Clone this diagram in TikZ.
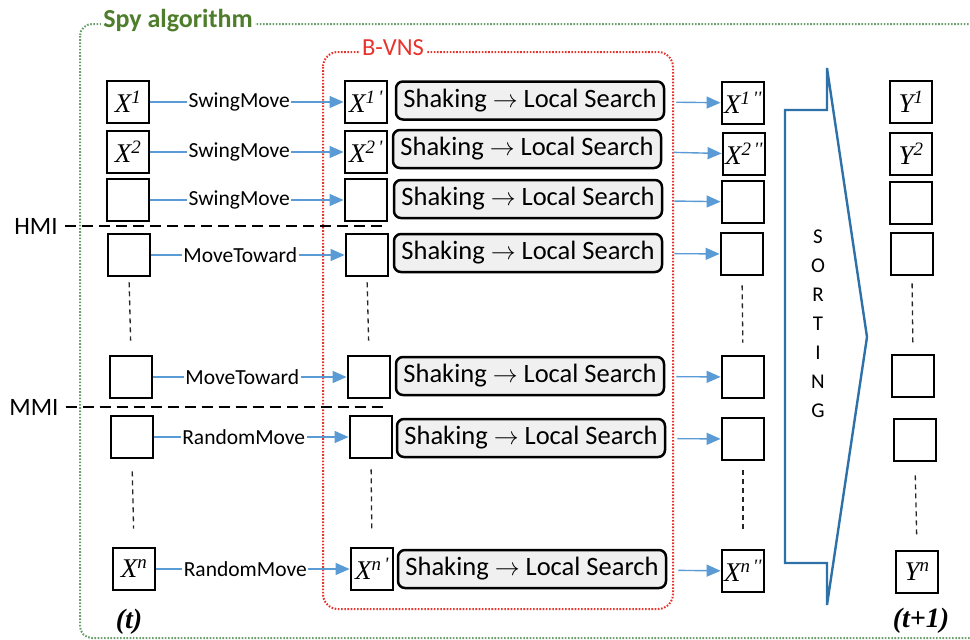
\documentclass[tikz,border=0pt]{standalone}
\usepackage{fontspec}
\setmainfont{Carlito}
\newfontfamily\tms{Liberation Serif}
\usetikzlibrary{arrows.meta,calc}
\definecolor{spygreen}{HTML}{4E7D2C}
\definecolor{spydot}{HTML}{6A9E6A}
\definecolor{vnsred}{HTML}{E8332C}
\definecolor{arrblue}{HTML}{5B9BD5}
\definecolor{sortblue}{HTML}{2E70A8}
\begin{document}
\begin{tikzpicture}[x=1pt,y=-1pt,
  sq/.style={draw=black, line width=2.8pt, minimum width=42pt, minimum height=42pt, inner sep=0pt, fill=white, font=\tms\fontsize{27}{27}\selectfont\itshape},
  shbox/.style={draw=black, line width=2.5pt, rounded corners=7pt, fill=gray!12, minimum width=268pt, minimum height=38pt, inner sep=0pt, font=\fontsize{26.5}{28}\selectfont},
  mvarrow/.style={draw=arrblue, line width=1.4pt, -{Triangle[length=14pt,width=12pt]}},
  lbl/.style={fill=white, inner sep=1.5pt, font=\fontsize{21.5}{22}\selectfont, text=black},
  vdash/.style={draw=black!85, line width=1.3pt, dash pattern=on 5pt off 4pt},
  hdash/.style={draw=black, line width=2.6pt, dash pattern=on 11pt off 6pt},
  tlab/.style={font=\tms\fontsize{28}{28}\selectfont\bfseries\itshape}
]
\useasboundingbox (0,0) rectangle (970,640);
% Spy algorithm frame
\draw[spydot, line width=2pt, dash pattern=on 1.6pt off 1.6pt, rounded corners=12pt] (80,24) rectangle (985,638);
\node[fill=white, inner sep=2pt, text=spygreen, font=\fontsize{26}{28}\selectfont\bfseries] (spy) at (178,21) {Spy algorithm};
% B-VNS frame
\draw[vnsred, line width=2pt, dash pattern=on 1.6pt off 1.6pt, rounded corners=15pt] (323,52) rectangle (673,609);
\node[fill=white, inner sep=2pt, text=vnsred, font=\fontsize{24.5}{26}\selectfont] (vns) at (393,48) {B-VNS};

% column 1
\node[sq] (a1) at (128,102) {X\textsuperscript{1}};
\node[sq] (a2) at (128,152) {X\textsuperscript{2}};
\node[sq] (a3) at (128,200) {};
\node[sq] (a4) at (129,255) {};
\node[sq] (a5) at (131,377) {};
\node[sq] (a6) at (132,437) {};
\node[sq] (a7) at (134,569) {X\textsuperscript{\textit{n}}};
% column 2
\node[sq] (b1) at (366,102) {X\textsuperscript{1\,'}};
\node[sq] (b2) at (366,152) {X\textsuperscript{2\,'}};
\node[sq] (b3) at (366,200) {};
\node[sq] (b4) at (367,255) {};
\node[sq] (b5) at (369,377) {};
\node[sq] (b6) at (371,437) {};
\node[sq] (b7) at (372,569) {X\textsuperscript{\textit{n}\,'}};
% shaking boxes
\node[shbox] (s1) at (530,100.5) {Shaking $\rightarrow$ Local Search};
\node[shbox] (s2) at (527,149) {Shaking $\rightarrow$ Local Search};
\node[shbox] (s3) at (528,199) {Shaking $\rightarrow$ Local Search};
\node[shbox] (s4) at (528,253) {Shaking $\rightarrow$ Local Search};
\node[shbox] (s5) at (530,376) {Shaking $\rightarrow$ Local Search};
\node[shbox] (s6) at (531,438) {Shaking $\rightarrow$ Local Search};
\node[shbox] (s7) at (532,569) {Shaking $\rightarrow$ Local Search};
% column 3
\node[sq] (c1) at (743,103) {X\textsuperscript{1\,''}};
\node[sq] (c2) at (744,154) {X\textsuperscript{2\,''}};
\node[sq] (c3) at (743,202) {};
\node[sq] (c4) at (742,254) {};
\node[sq] (c5) at (743,377) {};
\node[sq] (c6) at (743,439) {};
\node[sq] (c7) at (743,571) {X\textsuperscript{\textit{n}\,''}};
% column 4
\node[sq] (d1) at (911,102) {Y\textsuperscript{1}};
\node[sq] (d2) at (911,154) {Y\textsuperscript{2}};
\node[sq] (d3) at (911,203) {};
\node[sq] (d4) at (912,254) {};
\node[sq] (d5) at (913,376) {};
\node[sq] (d6) at (915,440) {};
\node[sq] (d7) at (917,572) {Y\textsuperscript{\textit{n}}};

% move arrows
\draw[mvarrow] (a1) -- node[lbl, pos=0.46] {SwingMove} (b1);
\draw[mvarrow] (a2) -- node[lbl, pos=0.46] {SwingMove} (b2);
\draw[mvarrow] (a3) -- node[lbl, pos=0.46] {SwingMove} (b3);
\draw[mvarrow] (a4) -- node[lbl, pos=0.46] {MoveToward} (b4);
\draw[mvarrow] (a5) -- node[lbl, pos=0.46] {MoveToward} (b5);
\draw[mvarrow] (a6) -- node[lbl, pos=0.46] {RandomMove} (b6);
\draw[mvarrow] (a7) -- node[lbl, pos=0.46] {RandomMove} (b7);
% to column 3
\foreach \i in {1,...,7}{
  \draw[mvarrow, shorten <=11pt] (s\i) -- (c\i);
}

% vertical dashes
\draw[vdash, shorten <=5pt, shorten >=14pt] (a4.south) -- (a5.north);
\draw[vdash, shorten <=12pt, shorten >=18pt] (a6.south) -- (a7.north);
\draw[vdash, shorten <=5pt, shorten >=14pt] (b4.south) -- (b5.north);
\draw[vdash, shorten <=10pt, shorten >=18pt] (b6.south) -- (b7.north);
\draw[vdash, shorten <=9pt, shorten >=12pt] (c4.south) -- (c5.north);
\draw[vdash, shorten <=9pt, shorten >=19pt] (c6.south) -- (c7.north);
\draw[vdash, shorten <=7pt, shorten >=10pt] (d4.south) -- (d5.north);
\draw[vdash, shorten <=13pt, shorten >=14pt] (d6.south) -- (d7.north);

% HMI / MMI
\node[font=\fontsize{25}{26}\selectfont, inner sep=1pt] (hmi) at (36,226) {HMI};
\node[font=\fontsize{25}{26}\selectfont, inner sep=1pt] (mmi) at (34,407) {MMI};
\coordinate (hmiend) at (387,226);
\coordinate (mmiend) at (383,407);
\draw[hdash, shorten <=6pt] (hmi.east) -- (hmiend);
\draw[hdash, shorten <=6pt] (mmi.east) -- (mmiend);

% Sorting arrow
\draw[sortblue, line width=2.4pt, line join=miter] (785,110) -- (827,110) -- (827,68) -- (867,337) -- (827,605) -- (827,563) -- (785,563) -- cycle;
\node[align=center, font=\fontsize{21}{29}\selectfont, inner sep=0pt] (sort) at (818,324) {S\\O\\R\\T\\I\\N\\G};

% time labels
\node[tlab] (t0) at (129,622) {(t)};
\node[tlab] (t1) at (921,621) {(t+1)};
\end{tikzpicture}
\end{document}
